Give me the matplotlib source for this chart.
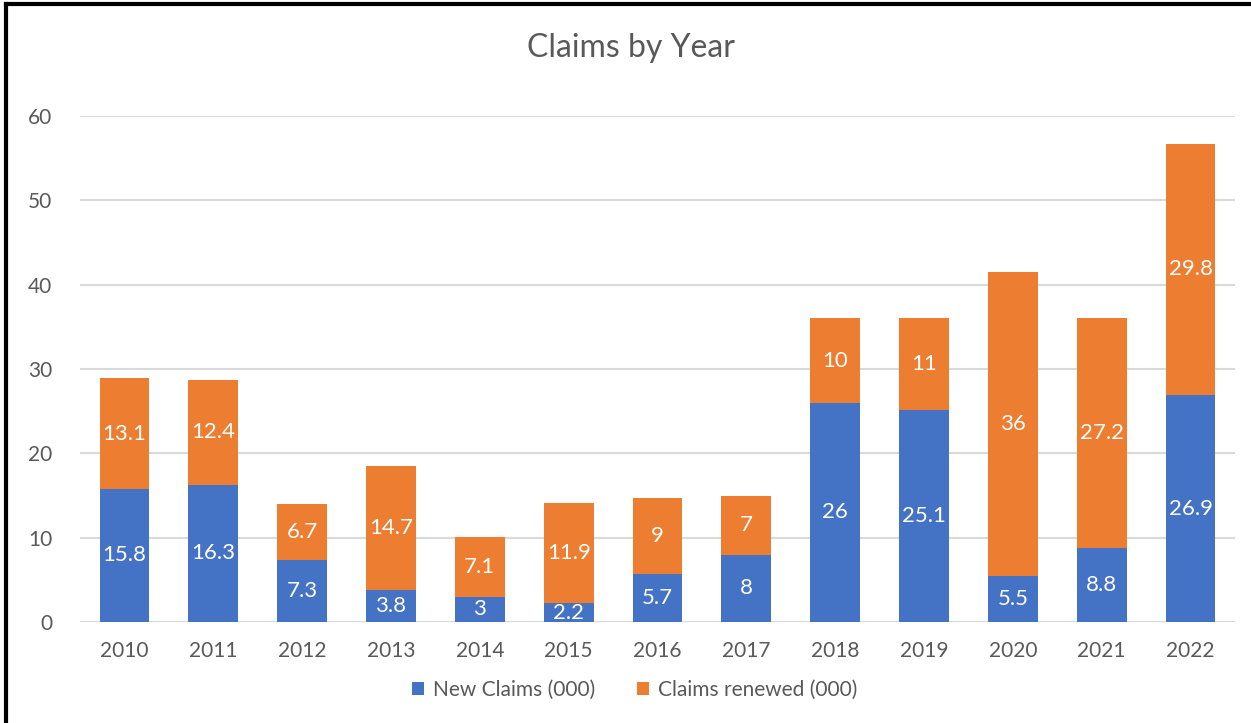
import matplotlib.pyplot as plt
import numpy as np
from matplotlib.lines import Line2D

years = ['2010', '2011', '2012', '2013', '2014', '2015', '2016', '2017',
         '2018', '2019', '2020', '2021', '2022']
new_claims = [15.8, 16.3, 7.3, 3.8, 3, 2.2, 5.7, 8, 26, 25.1, 5.5, 8.8, 26.9]
renewed = [13.1, 12.4, 6.7, 14.7, 7.1, 11.9, 9, 7, 10, 11, 36, 27.2, 29.8]

blue = '#4472C4'
orange = '#ED7D31'
grey = '#595959'

plt.rcParams['font.family'] = ['Lato', 'DejaVu Sans']

fig = plt.figure(figsize=(12.51, 7.23), dpi=100)
ax = fig.add_axes([80 / 1251, 1 - 622 / 723, 1155 / 1251, 506 / 723])

x = np.arange(len(years))
b1 = ax.bar(x, new_claims, width=0.56, color=blue, label='New Claims (000)', zorder=3)
b2 = ax.bar(x, renewed, width=0.56, bottom=new_claims, color=orange,
            label='Claims renewed (000)', zorder=3)
ax.bar_label(b1, labels=[f'{v:g}' for v in new_claims], label_type='center',
             color='white', fontsize=16)
ax.bar_label(b2, labels=[f'{v:g}' for v in renewed], label_type='center',
             color='white', fontsize=16)

ax.set_ylim(0, 60)
ax.set_xlim(-0.5, 12.5)
ax.set_yticks(range(0, 61, 10))
ax.set_xticks(x)
ax.set_xticklabels(years)
ax.yaxis.grid(True, color='#D9D9D9', linewidth=1.5, zorder=0)
ax.tick_params(length=0, labelsize=15, colors=grey)
ax.tick_params(axis='x', pad=14)
ax.tick_params(axis='y', pad=20)
for s in ax.spines.values():
    s.set_visible(False)

fig.text(0.504, 0.933, 'Claims by Year', ha='center', va='center',
         fontsize=23, color=grey)
ax.legend(loc='center', bbox_to_anchor=(0.48, -0.134), ncol=2, frameon=False,
          fontsize=15, labelcolor=grey, handlelength=0.6, handleheight=0.6,
          columnspacing=2.0, handletextpad=0.4)

# outer frame (only top and left visible in the crop)
fig.add_artist(Line2D([0.005, 0.005], [0, 0.995], color='black', lw=3,
                      transform=fig.transFigure))
fig.add_artist(Line2D([0.005, 1], [0.995, 0.995], color='black', lw=3,
                      transform=fig.transFigure))

fig.savefig('out.png', dpi=100)
